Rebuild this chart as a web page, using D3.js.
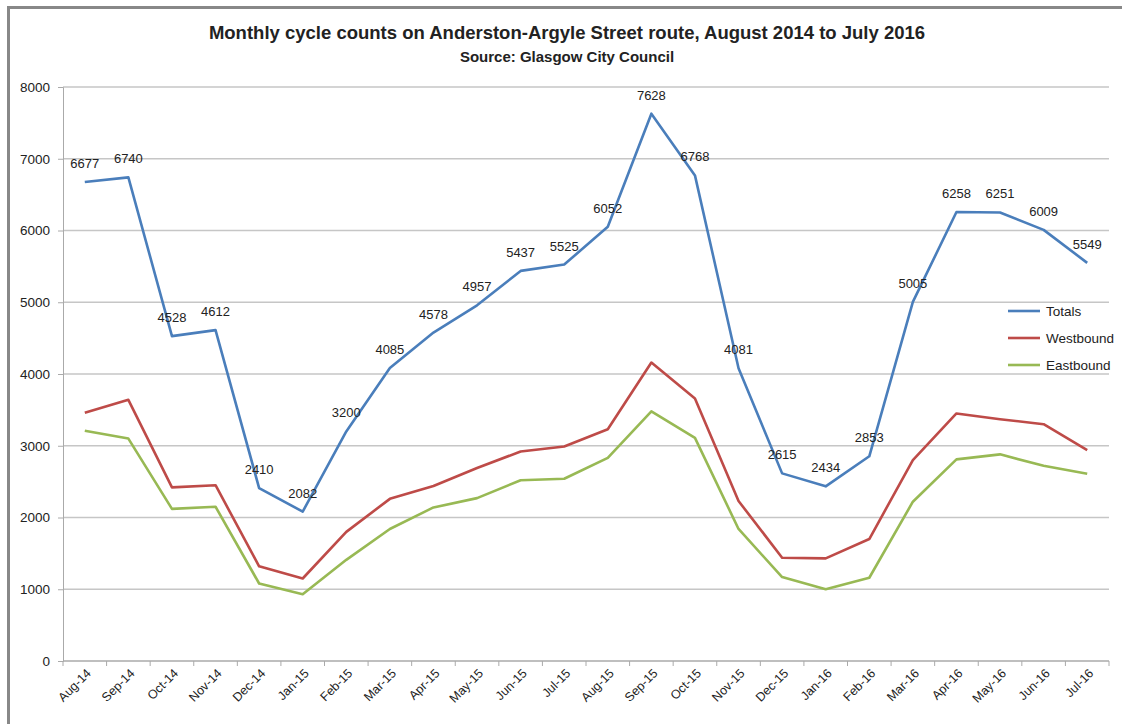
<!DOCTYPE html>
<html>
<head>
<meta charset="utf-8">
<script src="https://cdn.jsdelivr.net/npm/d3@7"></script>
<style>
  body { margin: 0; background: #fff; }
  text { font-family: "Liberation Sans", Arial, sans-serif; fill: #222; }
</style>
</head>
<body>
<script>
// Width and height
var w = 1122;
var h = 724;

// months on the x axis
var months = ["Aug-14","Sep-14","Oct-14","Nov-14","Dec-14","Jan-15","Feb-15","Mar-15",
              "Apr-15","May-15","Jun-15","Jul-15","Aug-15","Sep-15","Oct-15","Nov-15",
              "Dec-15","Jan-16","Feb-16","Mar-16","Apr-16","May-16","Jun-16","Jul-16"];

// counts (totals are labelled)
var totals    = [6677,6740,4528,4612,2410,2082,3200,4085,4578,4957,5437,5525,
                 6052,7628,6768,4081,2615,2434,2853,5005,6258,6251,6009,5549];
var westbound = [3460,3640,2420,2450,1320,1150,1800,2260,2440,2690,2920,2990,
                 3230,4160,3660,2230,1440,1430,1700,2800,3450,3370,3300,2940];
var eastbound = [3210,3100,2120,2150,1080,930,1410,1840,2140,2270,2520,2540,
                 2830,3480,3110,1840,1170,1000,1160,2220,2810,2880,2720,2610];

var yTicks = [0,1000,2000,3000,4000,5000,6000,7000,8000];

var series = [
  {name: "Totals",    values: totals,    color: "#4a7ebb"},
  {name: "Westbound", values: westbound, color: "#be4b48"},
  {name: "Eastbound", values: eastbound, color: "#98b954"}
];

var margin = {left: 63, right: 1109, top: 87, bottom: 661};

var svg = d3.select("body").append("svg")
            .attr("width", w)
            .attr("height", h);

// outer frame (top + left edge, like the cropped excel chart)
svg.append("line").attr("x1", 8).attr("x2", w).attr("y1", 7.5).attr("y2", 7.5)
   .style("stroke", "#888").style("stroke-width", 3);
svg.append("line").attr("x1", 8.5).attr("x2", 8.5).attr("y1", 6).attr("y2", h)
   .style("stroke", "#888").style("stroke-width", 3);

// title
svg.append("text").attr("x", 567).attr("y", 39)
   .attr("text-anchor", "middle")
   .style("font-size", "18.5px").style("font-weight", "bold")
   .text("Monthly cycle counts on Anderston-Argyle Street route, August 2014 to July 2016");
svg.append("text").attr("x", 567).attr("y", 62)
   .attr("text-anchor", "middle")
   .style("font-size", "15px").style("font-weight", "bold")
   .text("Source: Glasgow City Council");

// scales
var x = d3.scaleBand().domain(months).range([margin.left, margin.right]);
var y = d3.scaleLinear().domain([0, 8000]).range([margin.bottom, margin.top]);

// gridlines
svg.append("g").selectAll("line")
   .data(yTicks.slice(1))
   .enter().append("line")
   .attr("x1", margin.left).attr("x2", margin.right)
   .attr("y1", function(d){ return y(d); })
   .attr("y2", function(d){ return y(d); })
   .style("stroke", "#c6c6c6").style("stroke-width", 1.3);

// y axis
var yAxis = svg.append("g")
   .attr("transform", "translate(" + margin.left + ",0)")
   .call(d3.axisLeft(y).tickValues(yTicks).tickSize(5).tickFormat(d3.format("d")));
yAxis.select(".domain").style("stroke", "#aaa");
yAxis.selectAll(".tick line").style("stroke", "#aaa");
yAxis.selectAll("text").style("font-size", "13.5px").style("fill", "#222")
     .attr("x", -13).attr("font-family", null);

// x axis, ticks between categories
var xAxis = svg.append("g")
   .attr("transform", "translate(0," + margin.bottom + ")");
xAxis.append("line").attr("x1", margin.left).attr("x2", margin.right)
     .style("stroke", "#aaa").style("stroke-width", 1.3);
xAxis.selectAll("line.tk")
     .data(months.concat(["end"]))
     .enter().append("line").attr("class", "tk")
     .attr("x1", function(d, i){ return margin.left + i * x.bandwidth(); })
     .attr("x2", function(d, i){ return margin.left + i * x.bandwidth(); })
     .attr("y1", 0).attr("y2", 5)
     .style("stroke", "#aaa");
xAxis.selectAll("text")
     .data(months)
     .enter().append("text")
     .attr("text-anchor", "end")
     .attr("transform", function(d){
         var cx = x(d) + x.bandwidth() / 2 + 7;
         return "translate(" + cx + ",13) rotate(-45)";
     })
     .style("font-size", "12.5px")
     .text(function(d){ return d; });

// lines
var line = d3.line()
   .x(function(d, i){ return x(months[i]) + x.bandwidth() / 2; })
   .y(function(d){ return y(d); });

svg.append("g").selectAll("path")
   .data(series.slice().reverse())
   .enter().append("path")
   .attr("d", function(d){ return line(d.values); })
   .style("fill", "none")
   .style("stroke", function(d){ return d.color; })
   .style("stroke-width", 2.6)
   .style("stroke-linejoin", "round");

// data labels on the totals
svg.append("g").selectAll("text")
   .data(totals)
   .enter().append("text")
   .attr("x", function(d, i){ return x(months[i]) + x.bandwidth() / 2; })
   .attr("y", function(d){ return y(d) - 14; })
   .attr("text-anchor", "middle")
   .style("font-size", "13px")
   .text(function(d){ return d; });

// legend
var legend = svg.append("g").selectAll("g")
   .data(series)
   .enter().append("g")
   .attr("transform", function(d, i){ return "translate(1008," + (311 + i * 27) + ")"; });
legend.append("line").attr("x1", 0).attr("x2", 32)
      .style("stroke", function(d){ return d.color; }).style("stroke-width", 2.6);
legend.append("text").attr("x", 38).attr("y", 5)
      .style("font-size", "13.5px")
      .text(function(d){ return d.name; });
</script>
</body>
</html>
